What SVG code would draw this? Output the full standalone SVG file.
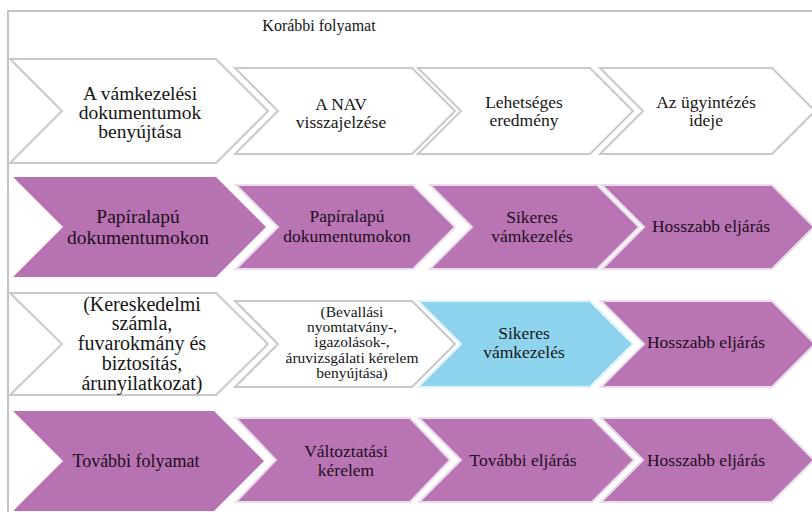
<svg xmlns="http://www.w3.org/2000/svg" width="812" height="512" viewBox="0 0 812 512">
<style>
.bg{fill:#ffffff}
.frame{fill:none;stroke:#c3c3c3;stroke-width:2}
.w{fill:#ffffff;stroke:#c6cacd;stroke-width:2;stroke-linejoin:miter}
.p{fill:#b773b1}
.ps{fill:#b975b3;stroke:#eadcea;stroke-width:2}
.b{fill:#8fd4ef;stroke:#e4f3fa;stroke-width:2}
.lbl text{text-anchor:middle;fill:#161616}
.t20{font-size:19.5px}
.t21{font-size:20px}
.t18{font-size:17.5px}
.t16{font-size:15.5px}
.lbl .dk{fill:#1e0d22}
</style>
<rect class="bg" x="0" y="0" width="812" height="512"/>
<path class="frame" d="M8,512 V11 H812"/>
<g class="lbl" font-family="Liberation Serif, Times New Roman, serif">
<text x="319" y="31" font-size="16">Korábbi folyamat</text>
<g id="connectors"/>

<g id="r1c1">
<polygon class="w" points="10,59 216,59 268,111 216,163 10,163 62,111"/>
<text class="t20" x="140" y="100">A vámkezelési</text>
<text class="t20" x="140" y="119">dokumentumok</text>
<text class="t20" x="140" y="138">benyújtása</text>
</g>
<g id="r1c2">
<polygon class="w" points="235,68 412,68 455,111 412,154 235,154 278,111"/>
<text class="t18" x="341" y="110">A NAV</text>
<text class="t18" x="341" y="128">visszajelzése</text>
</g>
<g id="r1c3">
<polygon class="w" points="418,68 590,68 633,111 590,154 418,154 461,111"/>
<text class="t18" x="524" y="108">Lehetséges</text>
<text class="t18" x="524" y="126">eredmény</text>
</g>
<g id="r1c4">
<polygon class="w" points="600,68 772,68 815,111 772,154 600,154 643,111"/>
<text class="t18" x="706" y="108">Az ügyintézés</text>
<text class="t18" x="706" y="126">ideje</text>
</g>

<g id="r2c1">
<polygon class="p" points="13,177 216,177 266,227 216,277 13,277 63,227"/>
<text class="t20 dk" x="138" y="223">Papíralapú</text>
<text class="t20 dk" x="138" y="244">dokumentumokon</text>
</g>
<g id="r2c2">
<polygon class="ps" points="236,185 413,185 455,227 413,269 236,269 278,227"/>
<text class="t18 dk" x="347" y="222">Papíralapú</text>
<text class="t18 dk" x="347" y="242">dokumentumokon</text>
</g>
<g id="r2c3">
<polygon class="ps" points="430,185 597,185 639,227 597,269 430,269 472,227"/>
<text class="t18 dk" x="532" y="223">Sikeres</text>
<text class="t18 dk" x="532" y="242">vámkezelés</text>
</g>
<g id="r2c4">
<polygon class="ps" points="602,185 772,185 814,227 772,269 602,269 644,227"/>
<text class="t18 dk" x="711" y="232">Hosszabb eljárás</text>
</g>

<g id="r3c1">
<polygon class="w" points="10,293 216,293 268,344 216,395 10,395 62,344"/>
<text class="t21" x="142" y="311">(Kereskedelmi</text>
<text class="t21" x="142" y="330">számla,</text>
<text class="t21" x="142" y="350">fuvarokmány és</text>
<text class="t21" x="142" y="370">biztosítás,</text>
<text class="t21" x="142" y="390">árunyilatkozat)</text>
</g>
<g id="r3c2">
<polygon class="w" points="235,301 412,301 455,344 412,387 235,387 278,344"/>
<text class="t16" x="352" y="317">(Bevallási</text>
<text class="t16" x="352" y="332">nyomtatvány-,</text>
<text class="t16" x="352" y="347">igazolások-,</text>
<text class="t16" x="352" y="363">áruvizsgálati kérelem</text>
<text class="t16" x="352" y="378">benyújtása)</text>
</g>
<g id="r3c3">
<polygon class="b" points="418,301 590,301 633,344 590,387 418,387 461,344"/>
<text class="t18" x="524" y="339">Sikeres</text>
<text class="t18" x="524" y="358">vámkezelés</text>
</g>
<g id="r3c4">
<polygon class="ps" points="601,301 772,301 815,344 772,387 601,387 644,344"/>
<text class="t18 dk" x="706" y="348">Hosszabb eljárás</text>
</g>

<g id="r4c1">
<polygon class="p" points="13,411 214,411 264,461 214,511 13,511 63,461"/>
<text class="dk" x="136" y="467" font-size="18px">További folyamat</text>
</g>
<g id="r4c2">
<polygon class="ps" points="236,418 410,418 450,460 410,502 236,502 276,460"/>
<text class="t18 dk" x="346" y="457">Változtatási</text>
<text class="t18 dk" x="346" y="476">kérelem</text>
</g>
<g id="r4c3">
<polygon class="ps" points="419,418 592,418 634,460 592,502 419,502 461,460"/>
<text class="t18 dk" x="523" y="466">További eljárás</text>
</g>
<g id="r4c4">
<polygon class="ps" points="601,418 772,418 814,460 772,502 601,502 643,460"/>
<text class="t18 dk" x="706" y="466">Hosszabb eljárás</text>
</g>
</g>
</svg>
